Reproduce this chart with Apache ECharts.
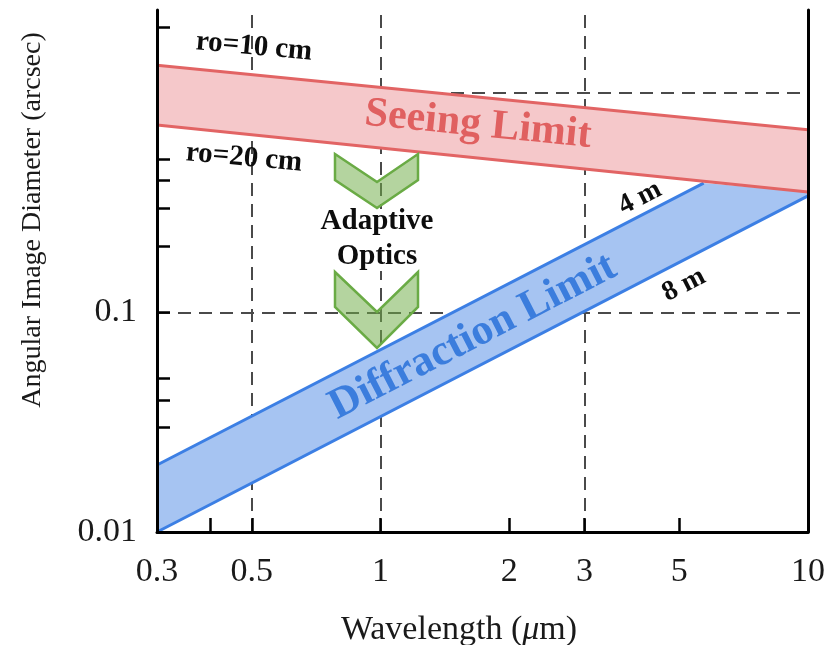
<!DOCTYPE html>
<html>
<head>
<meta charset="utf-8">
<script src="https://cdn.jsdelivr.net/npm/echarts@6/dist/echarts.min.js"></script>
<style>html,body{margin:0;padding:0;background:#fff}#chart{width:836px;height:645px}</style>
</head>
<body>
<div id="chart"></div>
<script>
// axis ticks / labels
var xLabelVals = [0.3, 0.5, 1, 2, 3, 5, 10];
var xTickVals = [0.4, 0.5, 1, 2, 3, 5];
var yLabelVals = [0.01, 0.1];
var yTickVals = [0.01, 0.03, 0.04, 0.05, 0.1, 0.2, 0.3, 0.4, 0.5, 2];
var gridX = [0.5, 1, 3];
var gridY = [0.1, 1];

// seeing limit (r0 = 10 cm / 20 cm)
var seeingWl = [0.3, 10];
var ro10 = [1.34, 0.68];
var ro20 = [0.715, 0.354];
// diffraction limit (8 m / 4 m)
var diffWl8 = [0.3, 10];
var d8m = [0.01, 0.34];
var diffWl4 = [0.3, 5.7];
var d4m = [0.0202, 0.389];

function pairs(xs, ys) { return xs.map(function (x, i) { return [x, ys[i]]; }); }

var redPts = pairs(seeingWl, ro10).concat(pairs(seeingWl, ro20).reverse());
var bluePts = pairs(diffWl8, d8m).concat([[seeingWl[1], ro20[1]]]).concat(pairs(diffWl4, d4m).reverse());

function band(pts, color, z) {
  return {
    type: 'custom', z: z, silent: true, data: [pts[0]],
    renderItem: function (params, api) {
      return { type: 'polygon', shape: { points: pts.map(function (p) { return api.coord(p); }) }, style: { fill: color } };
    }
  };
}
function line(pts, color, z) {
  return { type: 'line', data: pts, symbol: 'none', z: z, silent: true, lineStyle: { color: color, width: 3 } };
}

var serif = '"Liberation Serif", "DejaVu Serif", serif';
var axisLineStyle = { color: '#000', width: 3 };
var tickStyle = { color: '#000', width: 2.5 };

var marks = gridX.map(function (v) { return { xAxis: v }; }).concat(gridY.map(function (v) { return { yAxis: v }; }));

function txt(s, x, y, size, rot, color) {
  return { type: 'text', x: x, y: y, rotation: rot || 0, z: 100,
    style: { text: s, font: 'bold ' + size + 'px ' + serif, fill: color || '#0d0d0d',
      align: 'center', verticalAlign: 'middle', textAlign: 'center', textVerticalAlign: 'middle' } };
}
function chevron(pts) {
  return { type: 'polygon', z: 100, shape: { points: pts }, style: { fill: 'rgba(112,173,71,0.52)', stroke: '#6aab45', lineWidth: 2.5 } };
}

var myChart = echarts.init(document.getElementById('chart'));
myChart.setOption({
  animation: false,
  grid: { left: 157, right: 28, top: 10, bottom: 113 },
  xAxis: {
    type: 'log', logBase: 10, min: 0.3, max: 10, z: 10,
    axisLine: { onZero: false, lineStyle: axisLineStyle },
    axisTick: { inside: true, length: 14, lineStyle: tickStyle, customValues: xTickVals },
    axisLabel: { customValues: xLabelVals, formatter: function (v) { return String(v); },
      fontFamily: serif, fontSize: 34, color: '#1a1a1a', margin: 23 },
    splitLine: { show: false }
  },
  yAxis: [{
    type: 'log', logBase: 10, min: 0.01, max: 2.39, z: 10,
    axisLine: { onZero: false, lineStyle: axisLineStyle },
    axisTick: { inside: true, length: 13, lineStyle: tickStyle, customValues: yTickVals },
    axisLabel: { customValues: yLabelVals, formatter: function (v) { return String(v); },
      fontFamily: serif, fontSize: 34, color: '#1a1a1a', margin: 20 },
    splitLine: { show: false }
  }, {
    type: 'log', logBase: 10, min: 0.01, max: 2.39, position: 'right', z: 10,
    axisLine: { show: true, onZero: false, lineStyle: axisLineStyle },
    axisTick: { show: false }, axisLabel: { show: false }, splitLine: { show: false }
  }],
  series: [
    { type: 'line', data: [], z: 1, silent: true,
      markLine: { z: 1, silent: true, symbol: 'none', label: { show: false },
        lineStyle: { color: '#4a4a4a', width: 2, type: [13, 8] }, data: marks } },
    band(bluePts, '#a6c4f2', 2),
    line(pairs(diffWl8, d8m), '#3c7fe4', 3),
    line(pairs(diffWl4, d4m), '#3c7fe4', 3),
    band(redPts, '#f5c8ca', 4),
    line(pairs(seeingWl, ro10), '#e26464', 5),
    line(pairs(seeingWl, ro20), '#e26464', 5)
  ],
  graphic: [
    { type: 'rect', z: 99, shape: { x: 318, y: 209, width: 120, height: 62 }, style: { fill: '#fff' } },
    chevron([[335, 154], [377, 182], [418, 154], [418, 180], [377, 208], [335, 180]]),
    chevron([[335, 272], [377, 312], [418, 272], [418, 307], [377, 348], [335, 307]]),
    txt('ro=10 cm', 254, 47, 29, -0.09),
    txt('ro=20 cm', 244, 158, 29, -0.09),
    txt('Seeing Limit', 478, 125, 42, -0.1, '#e06060'),
    txt('Adaptive', 377, 222, 29, 0),
    txt('Optics', 377, 257, 29, 0),
    txt('Diffraction Limit', 473, 337, 43, 0.475, '#3b7ddd'),
    txt('4 m', 640, 198, 28, 0.475),
    txt('8 m', 684, 285, 28, 0.475),
    { type: 'text', x: 33, y: 220, rotation: Math.PI / 2, z: 100,
      style: { text: 'Angular Image Diameter (arcsec)', font: '28px ' + serif, fill: '#1a1a1a',
        align: 'center', verticalAlign: 'middle', textAlign: 'center', textVerticalAlign: 'middle' } },
    { type: 'text', x: 459, y: 630, z: 100,
      style: { text: 'Wavelength ({i|μ}m)', font: '34px ' + serif, fill: '#1a1a1a',
        align: 'center', verticalAlign: 'middle', textAlign: 'center', textVerticalAlign: 'middle',
        rich: { i: { fontStyle: 'italic', fontFamily: serif, fontSize: 34, fill: '#1a1a1a' } } } }
  ]
});
</script>
</body>
</html>
